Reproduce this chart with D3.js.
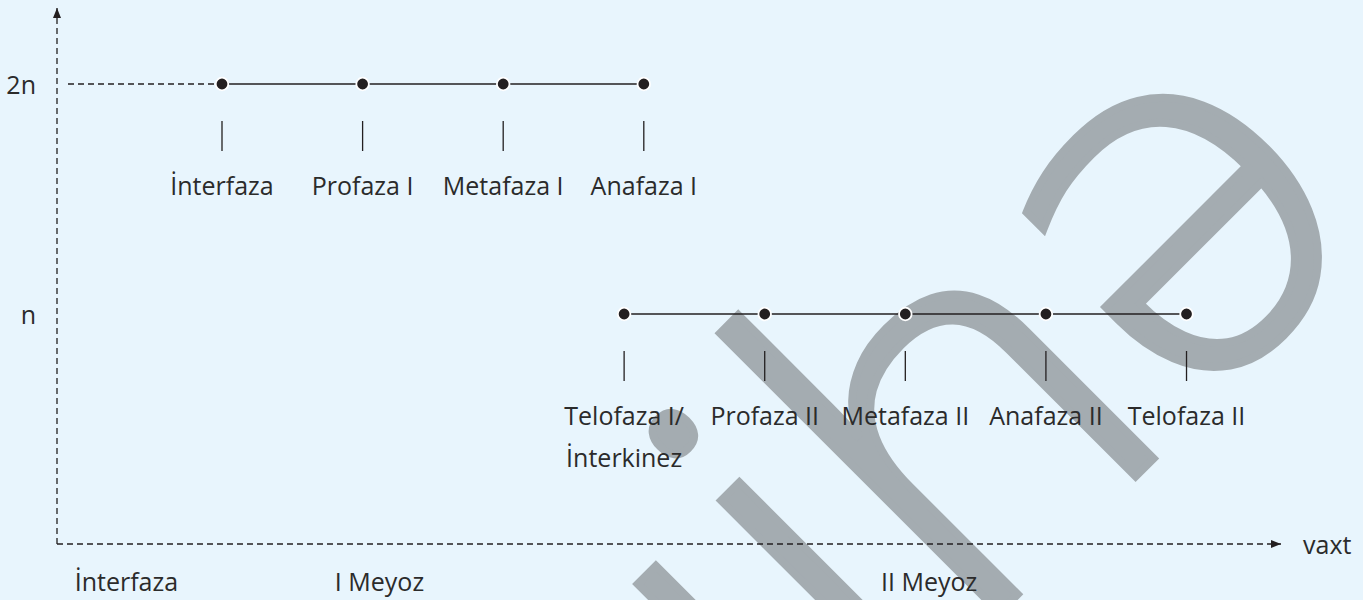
<!DOCTYPE html>
<html>
<head>
<meta charset="utf-8">
<script src="https://cdn.jsdelivr.net/npm/d3@7"></script>
<style>
  html, body { margin: 0; padding: 0; background: #e8f5fd; }
  svg { display: block; font-family: 'Open Sans', 'Noto Sans', sans-serif; }
  .lbl { fill: #2b2b2b; font-size: 25px; }
</style>
</head>
<body>
<svg id="chart" width="1363" height="600"></svg>
<script>
// ploidy levels on the y axis
var levelNames = ['2n', 'n'];
var levelValues = [2, 1];

// first row: phases at 2n
var phases1 = ['İnterfaza', 'Profaza I', 'Metafaza I', 'Anafaza I'];
var time1 = [1, 2, 3, 4];
var ploidy1 = [2, 2, 2, 2];

// second row: phases at n
var phases2 = ['Telofaza I/|İnterkinez', 'Profaza II', 'Metafaza II', 'Anafaza II', 'Telofaza II'];
var time2 = [3.86, 4.86, 5.86, 6.86, 7.86];
var ploidy2 = [1, 1, 1, 1, 1];

// stage names under the time axis
var stageNames = ['İnterfaza', 'I Meyoz', 'II Meyoz'];
var stageTime = [0.32, 2.12, 6.03];

var axisName = 'vaxt';

var svg = d3.select('#chart');
var ink = '#231f20';

var x = d3.scaleLinear().domain([0, 8]).range([81.4, 1206.2]);
var y = d3.scaleLinear().domain([0, 2]).range([544, 84]);

var originX = 57, originY = y(0);

svg.append('rect')
    .attr('width', 1363).attr('height', 600)
    .attr('fill', '#e8f5fd');

// watermark behind everything
svg.append('text')
    .attr('transform', 'translate(667,945) rotate(-45)')
    .attr('font-size', 520)
    .attr('font-weight', 300)
    .attr('fill', '#a4acb1')
    .attr('stroke', '#a4acb1')
    .attr('stroke-width', 8)
    .text('uihə');

// arrow heads
var defs = svg.append('defs');
defs.append('marker')
    .attr('id', 'arrow')
    .attr('viewBox', '0 0 10 10')
    .attr('refX', 10).attr('refY', 5)
    .attr('markerWidth', 10).attr('markerHeight', 10)
    .attr('markerUnits', 'userSpaceOnUse')
    .attr('orient', 'auto')
    .append('path')
    .attr('d', 'M0,1 L10,5 L0,9 Z')
    .attr('fill', ink);

// axes (dashed)
svg.append('line')
    .attr('x1', originX).attr('y1', originY)
    .attr('x2', originX).attr('y2', 8)
    .attr('stroke', ink).attr('stroke-width', 1.3)
    .attr('stroke-dasharray', '6,4')
    .attr('marker-end', 'url(#arrow)');

svg.append('line')
    .attr('x1', originX).attr('y1', originY)
    .attr('x2', 1281).attr('y2', originY)
    .attr('stroke', ink).attr('stroke-width', 1.3)
    .attr('stroke-dasharray', '6,4')
    .attr('marker-end', 'url(#arrow)');

svg.append('text')
    .attr('class', 'lbl')
    .attr('x', 1303).attr('y', originY)
    .attr('dominant-baseline', 'central')
    .text(axisName);

// level labels
svg.selectAll('.level')
    .data(levelNames)
    .enter().append('text')
    .attr('class', 'lbl level')
    .attr('x', 36)
    .attr('y', (d, i) => y(levelValues[i]))
    .attr('text-anchor', 'end')
    .attr('dominant-baseline', 'central')
    .text(d => d);

// dashed guide from axis to first 2n point
svg.append('line')
    .attr('x1', originX + 11).attr('y1', y(ploidy1[0]))
    .attr('x2', x(time1[0])).attr('y2', y(ploidy1[0]))
    .attr('stroke', ink).attr('stroke-width', 1.3)
    .attr('stroke-dasharray', '6,4');

function drawRow(names, times, ploidy, cls) {
    var rows = names.map((n, i) => ({name: n, t: times[i], p: ploidy[i]}));

    svg.append('path')
        .datum(rows)
        .attr('fill', 'none')
        .attr('stroke', ink)
        .attr('stroke-width', 1.6)
        .attr('d', d3.line().x(d => x(d.t)).y(d => y(d.p)));

    var g = svg.selectAll('.' + cls)
        .data(rows)
        .enter().append('g')
        .attr('class', cls)
        .attr('transform', d => 'translate(' + x(d.t) + ',' + y(d.p) + ')');

    g.append('circle')
        .attr('r', 6.3)
        .attr('fill', ink)
        .attr('stroke', '#ffffff')
        .attr('stroke-width', 1.8);

    g.append('line')
        .attr('y1', 37).attr('y2', 67)
        .attr('stroke', ink).attr('stroke-width', 1.3);

    var t = g.append('text')
        .attr('class', 'lbl')
        .attr('text-anchor', 'middle')
        .attr('y', 111);
    t.selectAll('tspan')
        .data(d => d.name.split('|'))
        .enter().append('tspan')
        .attr('x', 0)
        .attr('dy', (d, i) => i ? 42 : 0)
        .text(d => d);
}

drawRow(phases1, time1, ploidy1, 'row1');
drawRow(phases2, time2, ploidy2, 'row2');

// stage names
svg.selectAll('.stage')
    .data(stageNames)
    .enter().append('text')
    .attr('class', 'lbl stage')
    .attr('x', (d, i) => x(stageTime[i]))
    .attr('y', 591)
    .attr('text-anchor', 'middle')
    .text(d => d);
</script>
</body>
</html>
